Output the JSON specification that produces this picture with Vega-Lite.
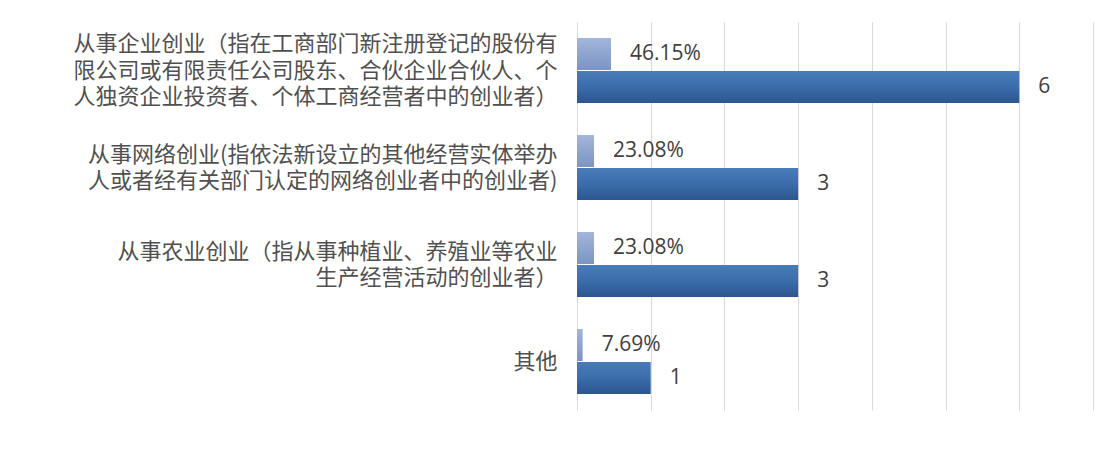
{
  "$schema": "https://vega.github.io/schema/vega-lite/v6.json",
  "autosize": {"type": "none"},
  "padding": {"left": 577, "top": 22, "right": 17, "bottom": 51},
  "width": 516,
  "height": 388,
  "background": "white",
  "config": {"view": {"stroke": null}},
  "data": {
    "values": [
      {"cat": "从事企业创业（指在工商部门新注册登记的股份有\n限公司或有限责任公司股东、合伙企业合伙人、个\n人独资企业投资者、个体工商经营者中的创业者）", "series": "pct", "value": 0.4615},
      {"cat": "从事企业创业（指在工商部门新注册登记的股份有\n限公司或有限责任公司股东、合伙企业合伙人、个\n人独资企业投资者、个体工商经营者中的创业者）", "series": "cnt", "value": 6},
      {"cat": "从事网络创业(指依法新设立的其他经营实体举办\n人或者经有关部门认定的网络创业者中的创业者)", "series": "pct", "value": 0.2308},
      {"cat": "从事网络创业(指依法新设立的其他经营实体举办\n人或者经有关部门认定的网络创业者中的创业者)", "series": "cnt", "value": 3},
      {"cat": "从事农业创业（指从事种植业、养殖业等农业\n生产经营活动的创业者）", "series": "pct", "value": 0.2308},
      {"cat": "从事农业创业（指从事种植业、养殖业等农业\n生产经营活动的创业者）", "series": "cnt", "value": 3},
      {"cat": "其他", "series": "pct", "value": 0.0769},
      {"cat": "其他", "series": "cnt", "value": 1}
    ]
  },
  "encoding": {
    "y": {
      "field": "cat",
      "type": "nominal",
      "sort": null,
      "scale": {"paddingInner": 0.33, "paddingOuter": 0.165},
      "axis": {
        "title": null,
        "ticks": false,
        "domain": false,
        "labelPadding": 20,
        "labelFont": "Noto Sans CJK SC",
        "labelFontSize": 22,
        "labelLineHeight": 26.5,
        "labelColor": "#505050",
        "labelLimit": 700,
        "labelAlign": "right",
        "labelOffset": {
          "condition": [
            {"test": "length(split(datum.value, '\\n')) == 3", "value": -26.5},
            {"test": "length(split(datum.value, '\\n')) == 2", "value": -13}
          ],
          "value": 0
        },
        "labelExpr": "split(datum.label, '\\n')"
      }
    },
    "yOffset": {
      "field": "series",
      "type": "nominal",
      "scale": {"domain": ["pct", "cnt"], "paddingInner": 0.03}
    },
    "x": {
      "field": "value",
      "type": "quantitative",
      "scale": {"domain": [0, 7], "nice": false},
      "axis": {
        "title": null,
        "values": [0, 1, 2, 3, 4, 5, 6, 7],
        "labels": false,
        "ticks": false,
        "domain": false,
        "grid": true,
        "gridColor": "#d9d9d9",
        "gridWidth": 1
      }
    }
  },
  "layer": [
    {
      "transform": [{"filter": "datum.series === 'pct'"}],
      "mark": {
        "type": "bar",
        "color": {
          "gradient": "linear", "x1": 0, "y1": 0, "x2": 0, "y2": 1,
          "stops": [
            {"offset": 0, "color": "#a3b6dc"},
            {"offset": 0.5, "color": "#8ea5d0"},
            {"offset": 1, "color": "#7d94c2"}
          ]
        }
      }
    },
    {
      "transform": [{"filter": "datum.series === 'cnt'"}],
      "mark": {
        "type": "bar",
        "color": {
          "gradient": "linear", "x1": 0, "y1": 0, "x2": 0, "y2": 1,
          "stops": [
            {"offset": 0, "color": "#4a7cba"},
            {"offset": 0.5, "color": "#3b6cab"},
            {"offset": 1, "color": "#2c568f"}
          ]
        }
      }
    },
    {
      "transform": [{"filter": "datum.series === 'pct'"}],
      "mark": {"type": "text", "align": "left", "baseline": "middle", "dx": 19, "font": "Open Sans", "fontSize": 21, "color": "#404040"},
      "encoding": {"text": {"field": "value", "type": "quantitative", "format": ".2%"}}
    },
    {
      "transform": [{"filter": "datum.series === 'cnt'"}],
      "mark": {"type": "text", "align": "left", "baseline": "middle", "dx": 19, "font": "Open Sans", "fontSize": 21, "color": "#404040"},
      "encoding": {"text": {"field": "value", "type": "quantitative", "format": "d"}}
    }
  ]
}
